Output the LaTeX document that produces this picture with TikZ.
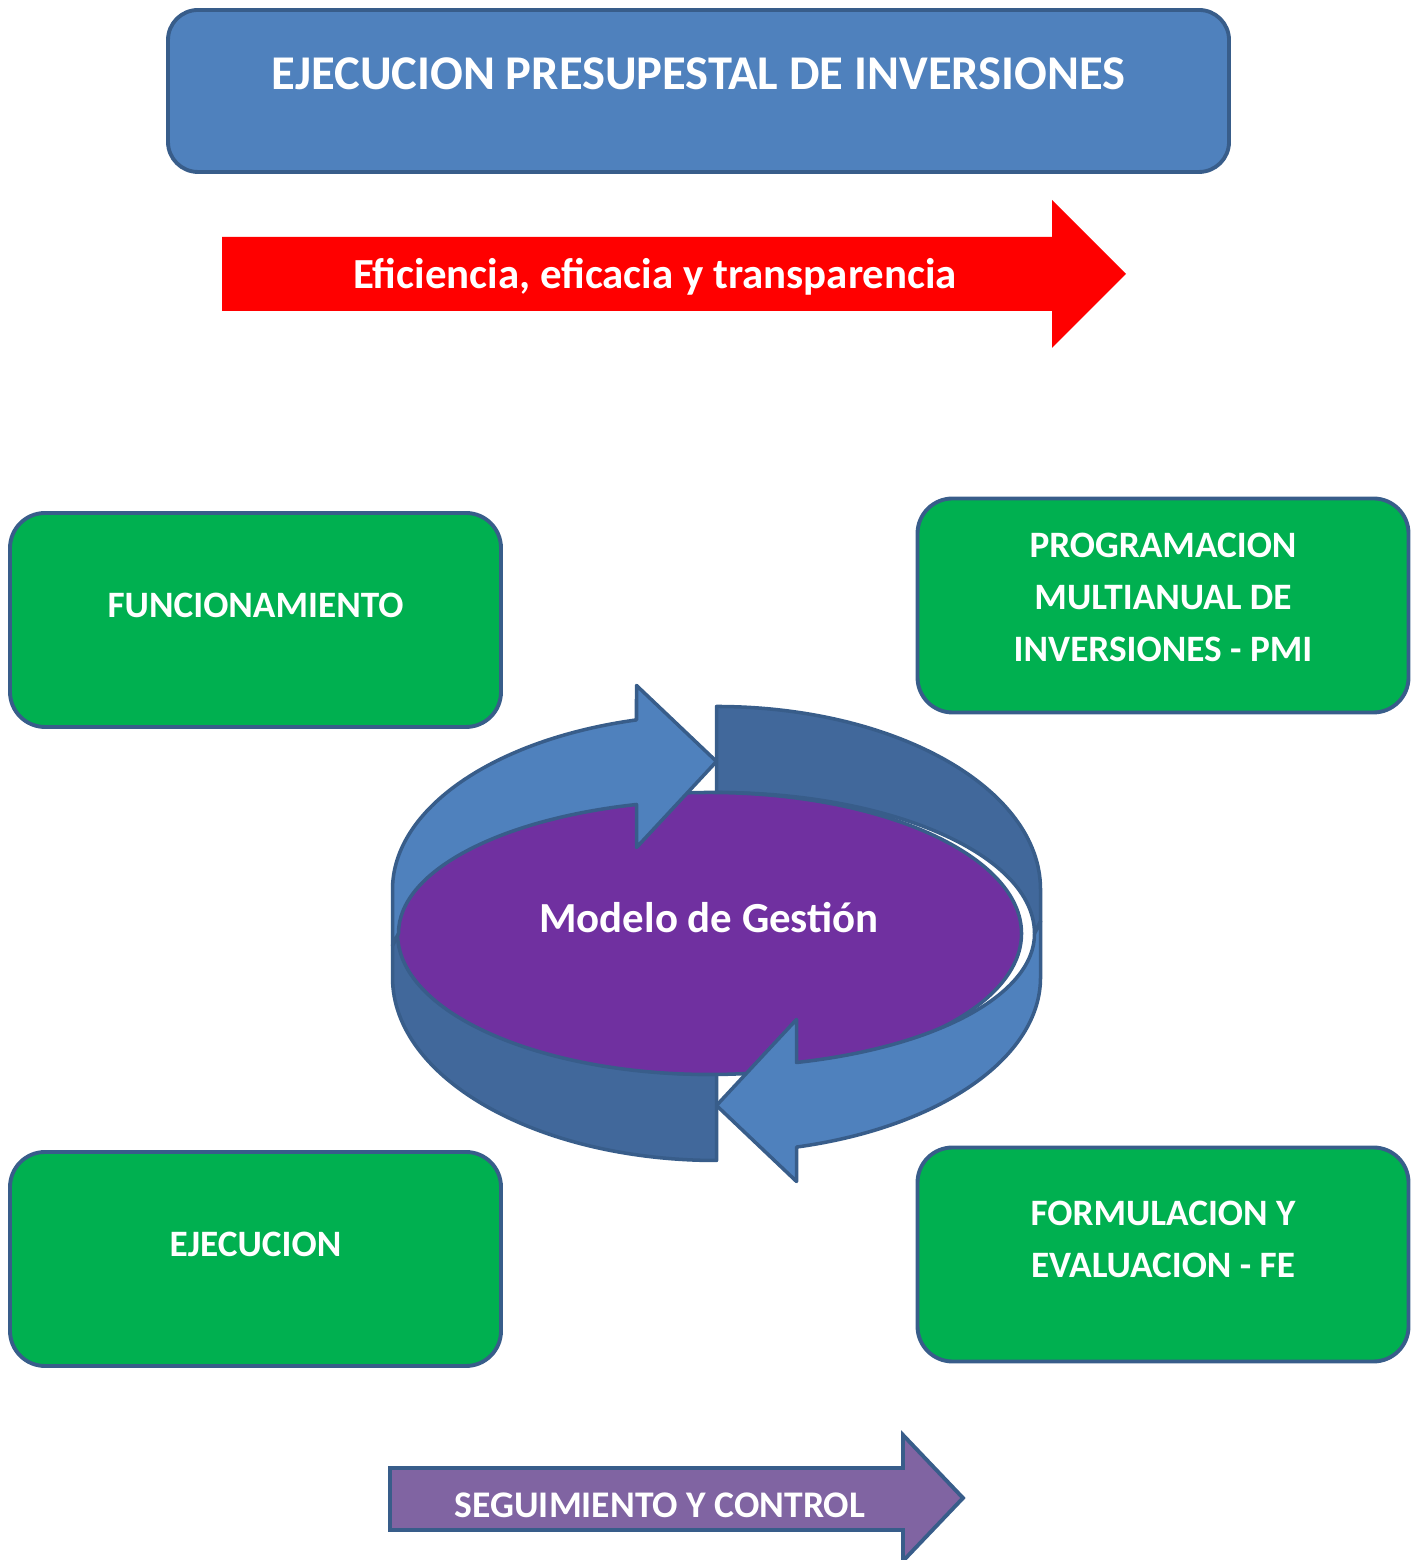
\documentclass[tikz,border=0pt]{standalone}
\usepackage{fontspec}
\setmainfont{Carlito}
\usetikzlibrary{positioning}
\definecolor{azul}{HTML}{4F81BD}
\definecolor{azuloscuro}{HTML}{41689B}
\definecolor{borde}{HTML}{385D8A}
\definecolor{verde}{HTML}{00B050}
\definecolor{morado}{HTML}{7030A0}
\definecolor{lila}{HTML}{8064A2}
\definecolor{rojo}{HTML}{FF0000}
\tikzset{
  caja/.style={draw=borde, line width=1.1pt, fill=verde, rounded corners=0.35cm,
    minimum width=4.91cm, minimum height=2.14cm},
  texto/.style={text=white, font=\bfseries\fontsize{10.6}{14.8}\selectfont, align=center},
  anillo/.style={draw=borde, line width=1pt, line join=round},
}
\begin{document}
\begin{tikzpicture}
\useasboundingbox (0,0) rectangle (14.19,15.60);
\node[draw=borde, line width=1.1pt, fill=azul, rounded corners=0.3cm,
  minimum width=10.61cm, minimum height=1.62cm] (titulo) at (6.985,14.69) {};
\node[text=white, font=\bfseries\fontsize{13.8}{16}\selectfont] (titulotxt)
  at ([yshift=1.7mm]titulo.center) {EJECUCION PRESUPESTAL DE INVERSIONES};
\fill[rojo] (2.22,13.23) -- (10.52,13.23) -- (10.52,13.60) -- (11.26,12.86)
  -- (10.52,12.12) -- (10.52,12.49) -- (2.22,12.49) -- cycle;
\node[text=white, font=\bfseries\fontsize{12.2}{14}\selectfont] (eficiencia)
  at (6.55,12.83) {Eficiencia, eficacia y transparencia};
\node[caja] (func) at (2.555,9.40) {};
\node[caja] (pmi) at (11.63,9.545) {};
\node[caja] (ejec) at (2.555,3.01) {};
\node[caja] (fe) at (11.63,3.055) {};
\node[texto] at ([yshift=1.5mm]func.center) {FUNCIONAMIENTO};
\node[texto] at ([yshift=0.8mm]pmi.center) {PROGRAMACION\\MULTIANUAL DE\\INVERSIONES - PMI};
\node[texto] at ([yshift=1.5mm]ejec.center) {EJECUCION};
\node[texto] at ([yshift=1.5mm]fe.center) {FORMULACION Y\\EVALUACION - FE};
\begin{scope}[shift={(7.165,6.265)}]
\foreach \r in {0,180}
  \draw[anillo, fill=azuloscuro, rotate=\r]
    (0,2.27) arc[start angle=90, end angle=0, x radius=3.24, y radius=1.83]
    -- (3.24,0.12) -- (3.18,0)
    arc[start angle=0, end angle=90, x radius=3.18, y radius=1.41] -- cycle;
\draw[anillo, fill=morado] (-0.07,0) ellipse[x radius=3.12, y radius=1.41];
\foreach \r in {0,180}
  \draw[anillo, fill=azul, rotate=\r]
    (-3.24,-0.12) -- (-3.24,0.44)
    arc[start angle=180, end angle=104.3, x radius=3.24, y radius=1.75]
    -- (-0.80,2.48) -- (0,1.72) -- (-0.80,0.86) -- (-0.80,1.29)
    arc[start angle=104.57, end angle=180, x radius=3.18, y radius=1.33] -- cycle;
\node[text=white, font=\bfseries\fontsize{12.2}{14}\selectfont] (modelo)
  at (-0.075,0.155) {Modelo de Gestión};
\end{scope}
\draw[fill=lila, draw=borde, line width=1.1pt] (3.90,0.92) -- (9.03,0.92) -- (9.03,1.25)
  -- (9.63,0.62) -- (9.03,-0.01) -- (9.03,0.30) -- (3.90,0.30) -- cycle;
\node[text=white, font=\bfseries\fontsize{10.7}{12}\selectfont] (seguimiento)
  at (6.60,0.55) {SEGUIMIENTO Y CONTROL};
\end{tikzpicture}
\end{document}
